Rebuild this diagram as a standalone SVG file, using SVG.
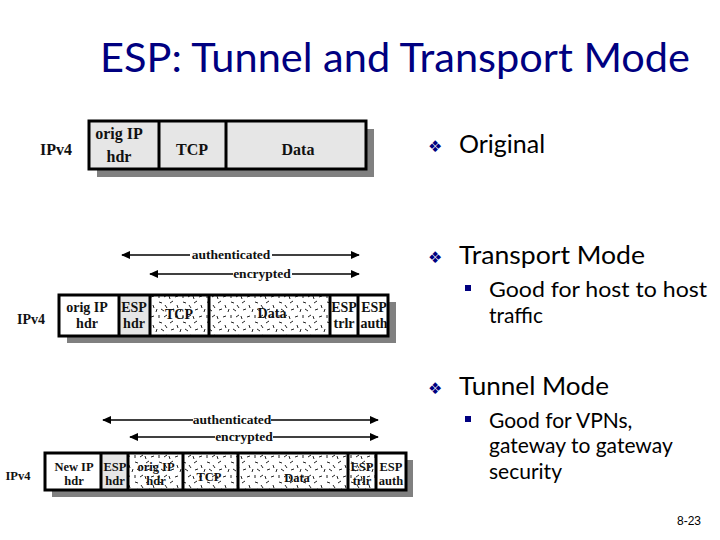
<svg xmlns="http://www.w3.org/2000/svg" width="720" height="540" viewBox="0 0 720 540">
<defs>
<style>
.title{font-family:Lato,"Noto Sans",sans-serif;font-size:40px;fill:#000080}
.b1{font-family:Lato,"Noto Sans",sans-serif;font-size:25px;fill:#000}
.b2{font-family:Lato,"Noto Sans",sans-serif;font-size:21px;fill:#000}
.dia{font-family:"DejaVu Sans",sans-serif;font-size:16px;fill:#000080}
.sq{fill:#000080}
.pk{font-family:"Liberation Serif",serif;font-weight:bold;fill:#111;text-anchor:middle}
.f15{font-size:16px}.f13{font-size:14px}.f12{font-size:12.5px}
.shadow{fill:#808080}
.grey{fill:#e6e6e6}
.white{fill:#fff}
.enc{fill:url(#speck)}
.border{fill:none;stroke:#000;stroke-width:3}
.div{stroke:#000;stroke-width:3}
.arr{stroke:#000;stroke-width:1.5;fill:none}
.lbl{font-family:"Liberation Serif",serif;font-weight:bold;font-size:13.5px;fill:#111;text-anchor:middle}
.pg{font-family:"Liberation Sans",Arial,sans-serif;font-size:12px;fill:#000}
</style>
<marker id="ah" viewBox="0 0 10 10" refX="9" refY="5" markerWidth="9" markerHeight="8" orient="auto-start-reverse" markerUnits="userSpaceOnUse" preserveAspectRatio="none">
<path d="M0,0 L10,5 L0,10 z" fill="#000"/>
</marker>
<pattern id="speck" width="24" height="20" patternUnits="userSpaceOnUse">
<rect width="24" height="20" fill="#fff"/>
<g stroke="#222" stroke-width="1">
<line x1="2" y1="3" x2="5" y2="1"/>
<line x1="9" y1="5" x2="10" y2="8"/>
<line x1="15" y1="2" x2="18" y2="3"/>
<line x1="21" y1="5" x2="23" y2="8"/>
<line x1="3" y1="10" x2="6" y2="9"/>
<line x1="12" y1="12" x2="13" y2="9"/>
<line x1="17" y1="9" x2="20" y2="11"/>
<line x1="1" y1="16" x2="2" y2="19"/>
<line x1="7" y1="17" x2="10" y2="16"/>
<line x1="15" y1="15" x2="15" y2="18"/>
<line x1="20" y1="17" x2="23" y2="15"/>
</g>
</pattern>
</defs>
<rect width="720" height="540" fill="#fff"/>
<text class="title" x="100" y="72" textLength="590" lengthAdjust="spacingAndGlyphs">ESP: Tunnel and Transport Mode</text>

<g id="original">
<text class="pk f15" x="56" y="155">IPv4</text>
<rect class="shadow" x="97" y="129" width="277" height="48"/>
<rect class="grey" x="89" y="121" width="277" height="48"/>
<line class="div" x1="159" y1="121" x2="159" y2="169"/>
<line class="div" x1="226" y1="121" x2="226" y2="169"/>
<rect class="border" x="89" y="121" width="277" height="48"/>
<text class="pk f15" x="119" y="139">orig IP</text>
<text class="pk f15" x="119" y="162">hdr</text>
<text class="pk f15" x="192" y="155">TCP</text>
<text class="pk f15" x="298" y="155">Data</text>
</g>

<g id="transport">
<text class="pk f13" x="31" y="324">IPv4</text>
<rect class="shadow" x="67" y="302" width="329" height="41"/>
<rect class="white" x="59" y="295" width="329" height="41"/>
<rect class="grey" x="119" y="295" width="31" height="41"/>
<rect class="enc" x="150" y="295" width="180" height="41"/>
<line class="div" x1="119" y1="295" x2="119" y2="336"/>
<line class="div" x1="150" y1="295" x2="150" y2="336"/>
<line class="div" x1="209" y1="295" x2="209" y2="336"/>
<line class="div" x1="330" y1="295" x2="330" y2="336"/>
<line class="div" x1="358" y1="295" x2="358" y2="336"/>
<rect class="border" x="59" y="295" width="329" height="41"/>
<text class="pk f13" x="87" y="312">orig IP</text>
<text class="pk f13" x="87" y="328">hdr</text>
<text class="pk f13" x="134" y="312">ESP</text>
<text class="pk f13" x="134" y="328">hdr</text>
<text class="pk f13" x="179" y="319">TCP</text>
<text class="pk f13" x="272" y="318">Data</text>
<text class="pk f13" x="344" y="312">ESP</text>
<text class="pk f13" x="344" y="328">trlr</text>
<text class="pk f13" x="374" y="312">ESP</text>
<text class="pk f13" x="374" y="328">auth</text>
</g>

<g id="tunnel">
<text class="pk f12" x="18" y="480">IPv4</text>
<rect class="shadow" x="52" y="460" width="361" height="37"/>
<rect class="white" x="45" y="453" width="361" height="37"/>
<rect class="grey" x="101" y="453" width="27" height="37"/>
<rect class="enc" x="128" y="453" width="248" height="37"/>
<line class="div" x1="101" y1="453" x2="101" y2="490"/>
<line class="div" x1="128" y1="453" x2="128" y2="490"/>
<line class="div" x1="183" y1="453" x2="183" y2="490"/>
<line class="div" x1="238" y1="453" x2="238" y2="490"/>
<line class="div" x1="348" y1="453" x2="348" y2="490"/>
<line class="div" x1="376" y1="453" x2="376" y2="490"/>
<rect class="border" x="45" y="453" width="361" height="37"/>
<text class="pk f12" x="74" y="471">New IP</text>
<text class="pk f12" x="74" y="485">hdr</text>
<text class="pk f12" x="115" y="471">ESP</text>
<text class="pk f12" x="115" y="485">hdr</text>
<text class="pk f12" x="156" y="471">orig IP</text>
<text class="pk f12" x="156" y="485">hdr</text>
<text class="pk f12" x="209" y="481">TCP</text>
<text class="pk f12" x="297" y="482">Data</text>
<text class="pk f12" x="362" y="471">ESP</text>
<text class="pk f12" x="362" y="485">trlr</text>
<text class="pk f12" x="391" y="471">ESP</text>
<text class="pk f12" x="391" y="485">auth</text>
</g>

<g id="connectors">
<line class="arr" x1="190" y1="255" x2="122" y2="255" marker-end="url(#ah)"/>
<line class="arr" x1="272" y1="255" x2="359" y2="255" marker-end="url(#ah)"/>
<text class="lbl" x="231" y="259">authenticated</text>
<line class="arr" x1="233" y1="274" x2="150" y2="274" marker-end="url(#ah)"/>
<line class="arr" x1="292" y1="274" x2="359" y2="274" marker-end="url(#ah)"/>
<text class="lbl" x="262" y="278">encrypted</text>
<line class="arr" x1="193" y1="420" x2="103" y2="420" marker-end="url(#ah)"/>
<line class="arr" x1="271" y1="420" x2="378" y2="420" marker-end="url(#ah)"/>
<text class="lbl" x="232" y="424">authenticated</text>
<line class="arr" x1="215" y1="437" x2="130" y2="437" marker-end="url(#ah)"/>
<line class="arr" x1="273" y1="437" x2="378" y2="437" marker-end="url(#ah)"/>
<text class="lbl" x="244" y="441">encrypted</text>
</g>

<g id="bullets">
<text class="dia" x="428" y="152">❖</text>
<text class="b1" x="459" y="153">Original</text>
<text class="dia" x="428" y="263">❖</text>
<text class="b1" x="459" y="264" textLength="186" lengthAdjust="spacingAndGlyphs">Transport Mode</text>
<rect class="sq" x="465" y="285" width="6" height="6"/>
<text class="b2" x="489" y="297" textLength="218" lengthAdjust="spacingAndGlyphs">Good for host to host</text>
<text class="b2" x="489" y="323">traffic</text>
<text class="dia" x="428" y="394">❖</text>
<text class="b1" x="459" y="395" textLength="150" lengthAdjust="spacingAndGlyphs">Tunnel Mode</text>
<rect class="sq" x="465" y="416" width="6" height="6"/>
<text class="b2" x="489" y="428">Good for VPNs,</text>
<text class="b2" x="489" y="453">gateway to gateway</text>
<text class="b2" x="489" y="479">security</text>
</g>
<text class="pg" x="677" y="525">8-23</text>
</svg>
